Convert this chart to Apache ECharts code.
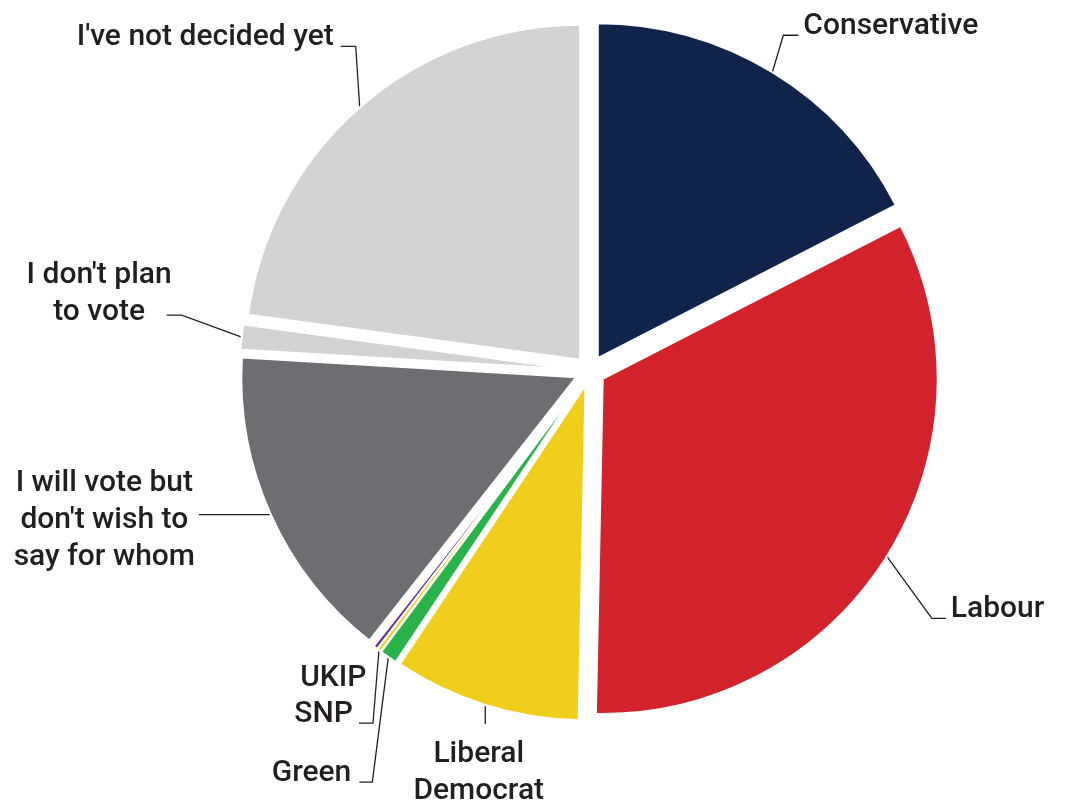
<!DOCTYPE html>
<html>
<head>
<meta charset="utf-8">
<script src="https://cdn.jsdelivr.net/npm/echarts@6/dist/echarts.min.js"></script>
<style>
html,body{margin:0;padding:0;background:#ffffff;}
#chart{width:1067px;height:803px;}
</style>
</head>
<body>
<div id="chart"></div>
<script>
// ---- data ----
const categories = [
  'Conservative',
  'Labour',
  'Liberal\nDemocrat',
  'Green',
  'SNP',
  'UKIP',
  "I will vote but\ndon't wish to\nsay for whom",
  "I don't plan\nto vote",
  "I've not decided yet"
];
const values = [17.4, 32.8, 9.0, 0.85, 0.2, 0.2, 15.3, 1.2, 22.8];

// ---- layout & styles ----
const CENTER = [590, 371];
const RADIUS = 335;
const EXPLODE = 15;
const sliceColors = ['#10234a', '#d2232c', '#efcf1c', '#2ab34b', '#eed21e', '#6a2c91', '#6d6e71', '#d1d3d4', '#d1d3d4'];
const textColor = '#231f20';
// label guide geometry, relative to the anchor point the library computes on each slice's arc
const guides = [
  { p2: [11, -37],  h: 15,  align: 'left',   tx: 5,     ty: -8.5 },
  { p2: [45, 62],   h: 14,  align: 'left',   tx: 5,     ty: -8.5 },
  { p2: [0, 19],    h: 0,   align: 'center', tx: -6.5,  ty: 49 },
  { p2: [-16, 125], h: -13, align: 'right',  tx: -8,    ty: -8.5 },
  { p2: [-6, 73],   h: -14, align: 'right',  tx: -6,    ty: -8.5 },
  { p2: null,       h: 0,   align: 'right',  tx: -9,    ty: 31 },
  { p2: [0, 0],     h: -72, align: 'center', tx: -94.5, ty: 6 },
  { p2: [-60, -22], h: -15, align: 'center', tx: -67.5, ty: -21 },
  { p2: [-4, -61],  h: -15, align: 'right',  tx: -7,    ty: -9 }
];

function guidePoints(i, a) {
  const g = guides[i];
  if (!g.p2) { return [a, a, a]; }
  const p2 = [a[0] + g.p2[0], a[1] + g.p2[1]];
  const p3 = [p2[0] + g.h, p2[1]];
  return [a, p2, p3];
}

const sliceData = categories.map(function (name, i) {
  const item = {
    name: name,
    value: values[i],
    selected: true,
    itemStyle: { color: sliceColors[i] }
  };
  if (!guides[i].p2) {
    item.labelLine = { lineStyle: { opacity: 0 } };
  }
  return item;
});
const textData = categories.map(function (name, i) {
  return { name: name, value: values[i] };
});

const labelFont = {
  color: textColor,
  fontFamily: 'Roboto',
  fontWeight: 500,
  fontSize: 30,
  lineHeight: 37
};

const chart = echarts.init(document.getElementById('chart'), null, { renderer: 'canvas' });
chart.setOption({
  animation: false,
  backgroundColor: '#ffffff',
  series: [{
    // visible, exploded slices with their leader lines
    type: 'pie',
    center: CENTER,
    radius: [0, RADIUS],
    startAngle: 90,
    clockwise: true,
    selectedMode: 'multiple',
    selectedOffset: EXPLODE,
    avoidLabelOverlap: false,
    emphasis: { disabled: true },
    itemStyle: { borderColor: '#ffffff', borderWidth: 2 },
    label: Object.assign({ show: true, position: 'outside', formatter: ' ' }, labelFont),
    labelLine: {
      show: true,
      length: 20,
      length2: 15,
      lineStyle: { color: textColor, width: 1.3 }
    },
    labelLayout: function (p) {
      const pts = p.labelLinePoints;
      if (!pts) { return {}; }
      return { labelLinePoints: guidePoints(p.dataIndex, pts[0]) };
    },
    data: sliceData
  }, {
    // same slices, transparent, carrying the category texts
    type: 'pie',
    center: CENTER,
    radius: [0, RADIUS],
    startAngle: 90,
    clockwise: true,
    selectedMode: false,
    silent: true,
    avoidLabelOverlap: false,
    emphasis: { disabled: true },
    itemStyle: { color: 'rgba(0,0,0,0)', borderWidth: 0 },
    label: Object.assign({ show: true, position: 'outside', formatter: '{b}' }, labelFont),
    labelLine: { show: true, length: 20, length2: 15, lineStyle: { opacity: 0 } },
    labelLayout: function (p) {
      const pts = p.labelLinePoints;
      if (!pts) { return {}; }
      const a0 = pts[0];
      const vx = a0[0] - CENTER[0], vy = a0[1] - CENTER[1];
      const len = Math.sqrt(vx * vx + vy * vy) || 1;
      const a = [a0[0] + EXPLODE * vx / len, a0[1] + EXPLODE * vy / len];
      const g = guides[p.dataIndex];
      const gp = guidePoints(p.dataIndex, a);
      const end = gp[2];
      return {
        x: end[0] + g.tx,
        y: end[1] + g.ty,
        align: g.align,
        verticalAlign: 'middle',
        hideOverlap: false
      };
    },
    data: textData
  }]
});
</script>
</body>
</html>
